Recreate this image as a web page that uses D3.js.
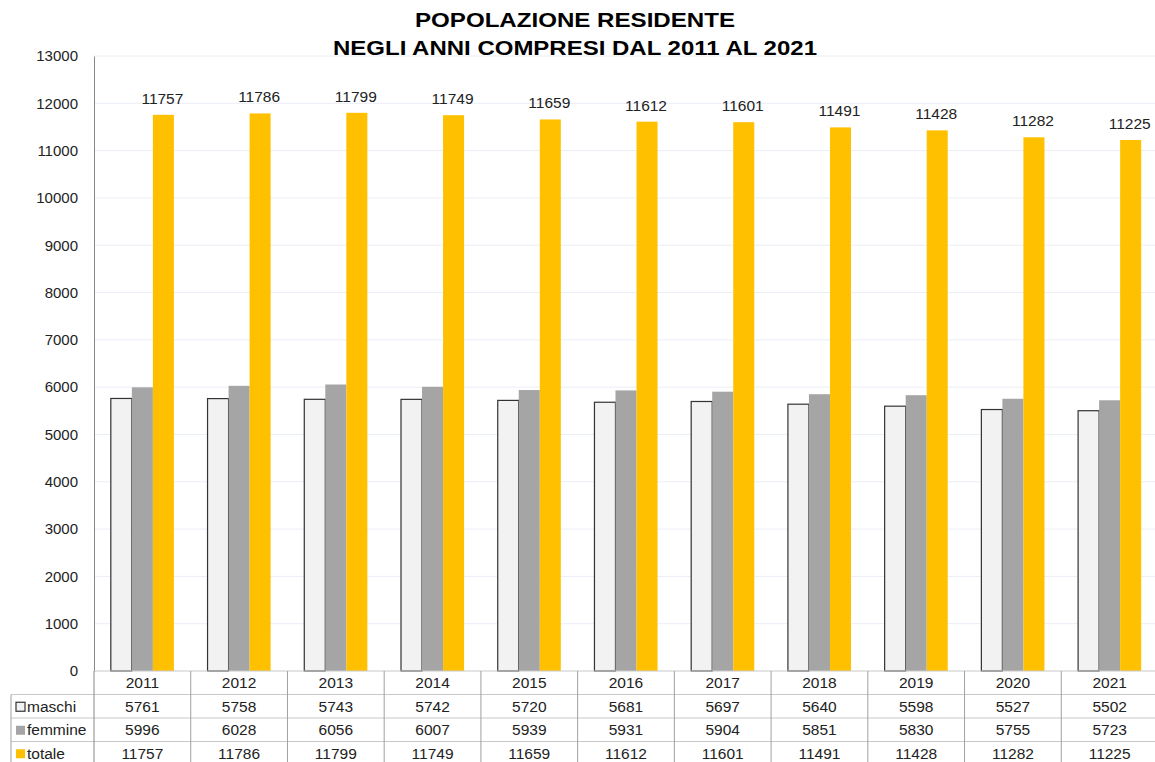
<!DOCTYPE html>
<html>
<head>
<meta charset="utf-8">
<script src="https://cdn.jsdelivr.net/npm/d3@7"></script>
<style>
  body { margin: 0; background: #fff; }
  svg { font-family: "Liberation Sans", Arial, sans-serif; }
</style>
</head>
<body>
<svg id="chart"></svg>
<script>
const years = ["2011", "2012", "2013", "2014", "2015", "2016", "2017", "2018", "2019", "2020", "2021"];
const maschi = [5761, 5758, 5743, 5742, 5720, 5681, 5697, 5640, 5598, 5527, 5502];
const femmine = [5996, 6028, 6056, 6007, 5939, 5931, 5904, 5851, 5830, 5755, 5723];
const totale = [11757, 11786, 11799, 11749, 11659, 11612, 11601, 11491, 11428, 11282, 11225];
const yTicks = [0, 1000, 2000, 3000, 4000, 5000, 6000, 7000, 8000, 9000, 10000, 11000, 12000, 13000];

const series = [
  { key: "maschi", values: maschi, fill: "#f2f2f2", stroke: "#333" },
  { key: "femmine", values: femmine, fill: "#a5a5a5", stroke: "none" },
  { key: "totale", values: totale, fill: "#ffc000", stroke: "none" }
];

const width = 1155, height = 762;
const plotLeft = 94, plotRight = 1158, plotTop = 56, plotBottom = 671;

const svg = d3.select("#chart").attr("width", width).attr("height", height);

// title (reference font is a bit wider, so stretch to its measured widths)
svg.append("text")
  .attr("x", 575).attr("y", 27)
  .attr("text-anchor", "middle")
  .attr("textLength", 320).attr("lengthAdjust", "spacingAndGlyphs")
  .style("font-size", "21px").style("font-weight", "bold")
  .text("POPOLAZIONE RESIDENTE");
svg.append("text")
  .attr("x", 575).attr("y", 55)
  .attr("text-anchor", "middle")
  .attr("textLength", 484).attr("lengthAdjust", "spacingAndGlyphs")
  .style("font-size", "21px").style("font-weight", "bold")
  .text("NEGLI ANNI COMPRESI DAL 2011 AL 2021");

const x = d3.scaleBand().domain(years).range([plotLeft, plotRight]).paddingInner(0).paddingOuter(0);
const x1 = d3.scaleBand().domain(series.map(s => s.key))
  .range([0, x.bandwidth()]).paddingInner(0).paddingOuter(0.8);
const y = d3.scaleLinear().domain([0, 13000]).range([plotBottom, plotTop]);

// gridlines
svg.append("g")
  .selectAll("line")
  .data(yTicks.slice(1))
  .enter().append("line")
  .attr("x1", plotLeft).attr("x2", plotRight)
  .attr("y1", d => y(d)).attr("y2", d => y(d))
  .attr("stroke", "#eaeef5").attr("stroke-width", 1);

// y axis
const yAxis = svg.append("g")
  .attr("transform", `translate(${plotLeft},0)`)
  .call(d3.axisLeft(y).tickValues(yTicks).tickFormat(d3.format("d")).tickSize(0).tickPadding(16));
yAxis.select(".domain").attr("stroke", "#888");
yAxis.selectAll("text").style("font-size", "15px").style("fill", "#222")
  .style("font-family", "'Liberation Sans', Arial, sans-serif");

// bars
const groups = svg.append("g")
  .selectAll("g")
  .data(years)
  .enter().append("g")
  .attr("transform", d => `translate(${x(d)},0)`);

groups.selectAll("rect")
  .data((d, i) => series.map(s => ({ key: s.key, value: s.values[i], fill: s.fill, stroke: s.stroke })))
  .enter().append("rect")
  .attr("x", d => x1(d.key))
  .attr("y", d => y(d.value))
  .attr("width", x1.bandwidth())
  .attr("height", d => y(0) - y(d.value))
  .attr("fill", d => d.fill)
  .attr("stroke", d => d.stroke)
  .attr("stroke-width", 1.2);

// labels on totale
groups.append("text")
  .attr("x", x1("totale") + x1.bandwidth() / 2 - 1)
  .attr("y", (d, i) => y(totale[i]) - 11)
  .attr("text-anchor", "middle")
  .style("font-size", "15.5px").style("fill", "#222")
  .text((d, i) => totale[i]);

// data table
const rowH = 23.5;
const tableTop = plotBottom;
const labelLeft = 11;
const table = svg.append("g");

// horizontal lines
[1, 2, 3].forEach(r => {
  table.append("line")
    .attr("x1", labelLeft).attr("x2", plotRight)
    .attr("y1", tableTop + r * rowH).attr("y2", tableTop + r * rowH)
    .attr("stroke", "#c8c8c8");
});
table.append("line")
  .attr("x1", plotLeft).attr("x2", plotRight)
  .attr("y1", tableTop).attr("y2", tableTop)
  .attr("stroke", "#c8c8c8");

// vertical lines
years.forEach(yr => {
  table.append("line")
    .attr("x1", x(yr) + x.bandwidth()).attr("x2", x(yr) + x.bandwidth())
    .attr("y1", tableTop).attr("y2", height)
    .attr("stroke", "#a0a0a0");
});
table.append("line")
  .attr("x1", plotLeft).attr("x2", plotLeft)
  .attr("y1", tableTop).attr("y2", height)
  .attr("stroke", "#888");
table.append("line")
  .attr("x1", labelLeft).attr("x2", labelLeft)
  .attr("y1", tableTop + rowH).attr("y2", height)
  .attr("stroke", "#a0a0a0");

// year row
table.selectAll("text.year")
  .data(years)
  .enter().append("text")
  .attr("class", "year")
  .attr("x", d => x(d) + x.bandwidth() / 2)
  .attr("y", tableTop + rowH / 2 + 5.5)
  .attr("text-anchor", "middle")
  .style("font-size", "15.5px").style("fill", "#222")
  .text(d => d);

// series rows
series.forEach((s, r) => {
  const cy = tableTop + (r + 1) * rowH + rowH / 2;
  table.append("rect")
    .attr("x", labelLeft + 5).attr("y", cy - 4)
    .attr("width", 9).attr("height", 9)
    .attr("fill", s.fill)
    .attr("stroke", s.stroke === "none" ? "none" : "#333")
    .attr("stroke-width", 1.2);
  table.append("text")
    .attr("x", labelLeft + 16).attr("y", cy + 5.5)
    .style("font-size", "15.5px").style("fill", "#222")
    .text(s.key);
  table.selectAll(`text.v-${s.key}`)
    .data(s.values)
    .enter().append("text")
    .attr("class", `v-${s.key}`)
    .attr("x", (d, i) => x(years[i]) + x.bandwidth() / 2)
    .attr("y", cy + 5.5)
    .attr("text-anchor", "middle")
    .style("font-size", "15.5px").style("fill", "#222")
    .text(d => d);
});
</script>
</body>
</html>
